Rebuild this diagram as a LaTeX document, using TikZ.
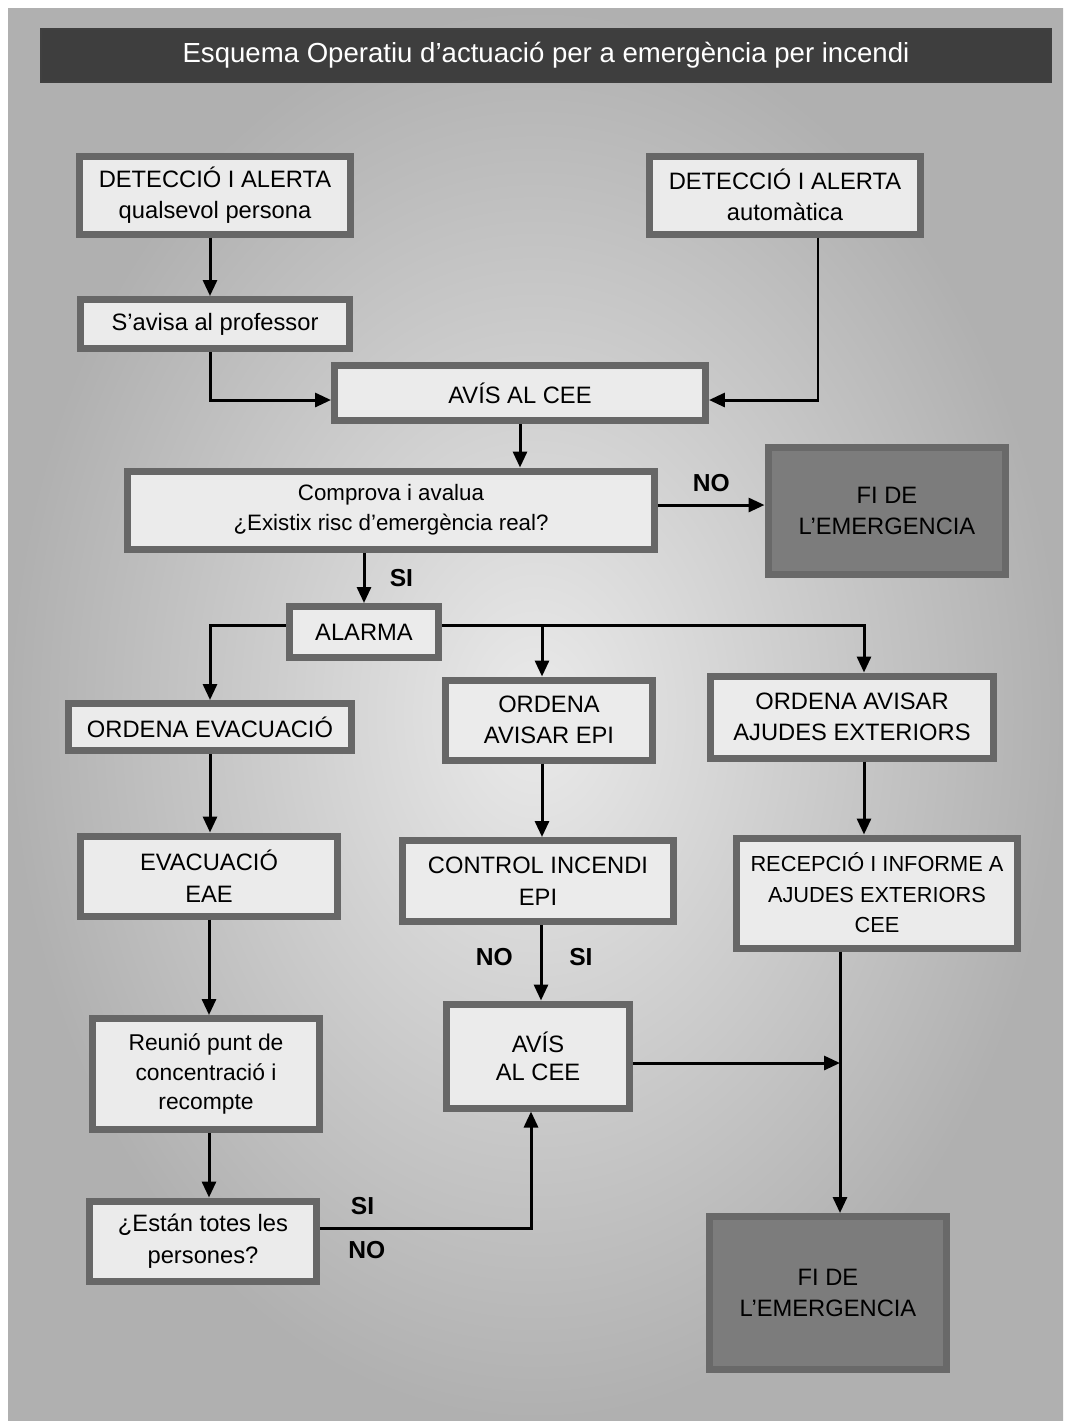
\documentclass[tikz,border=0pt]{standalone}
\usepackage{fontspec}
\setmainfont{Liberation Sans}
\usetikzlibrary{positioning,arrows.meta}
\definecolor{fons}{HTML}{EAEAEA}
\definecolor{fonsvora}{HTML}{B0B0B0}
\definecolor{boxfill}{HTML}{EBEBEB}
\definecolor{boxline}{HTML}{676767}
\definecolor{fifill}{HTML}{7C7C7C}
\definecolor{filine}{HTML}{696969}
\definecolor{titolfill}{HTML}{3E3E3E}

\begin{document}
\begin{tikzpicture}[x=0.02cm, y=-0.02cm]
  \tikzstyle{every node}=[font=\fontsize{13.5}{18}\selectfont]
  \tikzstyle{caixa}=[rectangle, draw=boxline, line width=0.14cm, fill=boxfill, inner sep=0pt, align=center]
  \tikzstyle{fi}=[caixa, draw=filine, fill=fifill]
  \tikzstyle{fletxa}=[line width=0.06cm, ->, >={Triangle[length=0.32cm, width=0.28cm]}]
  \tikzstyle{etiq}=[font=\fontsize{14}{16}\selectfont\bfseries, inner sep=1pt]

  % Background
  \useasboundingbox (0,0) rectangle (1065,1421);
  \fill[white] (0,0) rectangle (1065,1421);
  \shade[inner color=fons, outer color=fonsvora] (8,8) rectangle (1063,1421);

  % Title
  \node (titol) [rectangle, fill=titolfill, draw=black!75, line width=0.04cm, minimum width=20.2cm,
                minimum height=1.06cm, text=white, font=\fontsize{15.7}{18}\selectfont] at (546,55)
                {Esquema Operatiu d’actuació per a emergència per incendi};

  % Main boxes
  \node (det1) [caixa, minimum width=5.44cm, minimum height=1.56cm] at (215,195)
                {DETECCIÓ I ALERTA\\qualsevol persona};
  \node (det2) [caixa, minimum width=5.44cm, minimum height=1.56cm] at (785,195)
                {DETECCIÓ I ALERTA\\automàtica};
  \node (avisprof) [caixa, minimum width=5.38cm, minimum height=0.98cm] at (215,324)
                {S’avisa al professor};
  \node (cee1) [caixa, minimum width=7.42cm, minimum height=1.1cm] at (520,393)
                {AVÍS AL CEE};
  \node (comprova) [caixa, minimum width=10.54cm, minimum height=1.56cm,
                font=\fontsize{12.7}{17}\selectfont] at (391,510)
                {Comprova i avalua\\¿Existix risc d’emergència real?};
  \node (fi1) [fi, minimum width=4.76cm, minimum height=2.54cm] at (887,511)
                {FI DE\\L’EMERGENCIA};
  \node (alarma) [caixa, minimum width=3cm, minimum height=1.02cm] at (364,632)
                {ALARMA};

  \node (ordevac) [caixa, minimum width=5.66cm, minimum height=0.94cm] at (210,727)
                {ORDENA EVACUACIÓ};
  \node (ordepi) [caixa, minimum width=4.16cm, minimum height=1.6cm] at (549,720)
                {ORDENA\\AVISAR EPI};
  \node (ordajud) [caixa, minimum width=5.66cm, minimum height=1.64cm] at (852,717)
                {ORDENA AVISAR\\AJUDES EXTERIORS};

  \node (evac) [caixa, minimum width=5.14cm, minimum height=1.6cm] at (209,876)
                {EVACUACIÓ\\EAE};
  \node (control) [caixa, minimum width=5.44cm, minimum height=1.62cm] at (538,881)
                {CONTROL INCENDI\\EPI};
  \node (recep) [caixa, minimum width=5.62cm, minimum height=2.2cm,
                font=\fontsize{12.4}{17.4}\selectfont] at (877,893)
                {RECEPCIÓ I INFORME A\\AJUDES EXTERIORS\\CEE};

  \node (reunio) [caixa, minimum width=4.54cm, minimum height=2.22cm,
                font=\fontsize{13}{17}\selectfont] at (206,1074)
                {Reunió punt de\\concentració i\\recompte};
  \node (avis2) [caixa, minimum width=3.66cm, minimum height=2.08cm,
                font=\fontsize{13.5}{16}\selectfont] at (538,1056)
                {AVÍS\\AL CEE};
  \node (estan) [caixa, minimum width=4.56cm, minimum height=1.6cm] at (203,1241)
                {¿Están totes les\\persones?};
  \node (fi2) [fi, minimum width=4.74cm, minimum height=3.06cm] at (828,1293)
                {FI DE\\L’EMERGENCIA};

  \coordinate (br) at ([yshift=0.14cm]alarma.east);
  \coordinate (jn) at ([xshift=-0.74cm]recep.south);

  % Arrows
  \draw[fletxa] ([xshift=-0.1cm]det1.south) -- ([xshift=-0.1cm]avisprof.north);
  \draw[fletxa] ([xshift=-0.1cm]avisprof.south) |- ([yshift=-0.14cm]cee1.west);
  \draw[fletxa] ([xshift=0.66cm]det2.south) |- ([yshift=-0.14cm]cee1.east);
  \draw[fletxa] (cee1.south) -- (cee1.south |- comprova.north);
  \draw[fletxa] ([yshift=0.1cm]comprova.east) -- ([yshift=0.1cm]comprova.east -| fi1.west)
                node[etiq, midway, above=0.2cm] {NO};
  \draw[fletxa] (alarma.north |- comprova.south) -- (alarma.north)
                node[etiq, midway, right=0.45cm] {SI};
  \draw[fletxa] ([yshift=0.14cm]alarma.west) -| (ordevac.north);
  \draw[fletxa] (br) -| ([xshift=0.24cm]ordajud.north);
  \draw[fletxa] ([xshift=-0.14cm]ordepi.north |- br) -- ([xshift=-0.14cm]ordepi.north);

  \draw[fletxa] (ordevac.south) -- (ordevac.south |- evac.north);
  \draw[fletxa] (evac.south) -- (evac.south |- reunio.north);
  \draw[fletxa] ([xshift=0.06cm]reunio.south) -- ([xshift=0.06cm]reunio.south |- estan.north);
  \draw[fletxa] ([yshift=0.26cm]estan.east) -| ([xshift=-0.14cm]avis2.south)
                node[etiq, pos=0.1, above=0.2cm] {SI}
                node[etiq, pos=0.11, below=0.2cm] {NO};

  \draw[fletxa] ([xshift=-0.14cm]ordepi.south) -- ([xshift=-0.14cm]ordepi.south |- control.north);
  \draw[fletxa] ([xshift=0.06cm]control.south) -- ([xshift=0.06cm]control.south |- avis2.north)
                node[etiq, pos=0.42, left=0.5cm] {NO}
                node[etiq, pos=0.42, right=0.5cm] {SI};

  \draw[fletxa] ([xshift=0.24cm]ordajud.south) -- ([xshift=0.24cm]ordajud.south |- recep.north);
  \draw[fletxa] ([yshift=-0.14cm]avis2.east) -- ([yshift=-0.14cm]avis2.east -| jn);
  \draw[fletxa] (jn) -- (jn |- fi2.north);
\end{tikzpicture}
\end{document}
